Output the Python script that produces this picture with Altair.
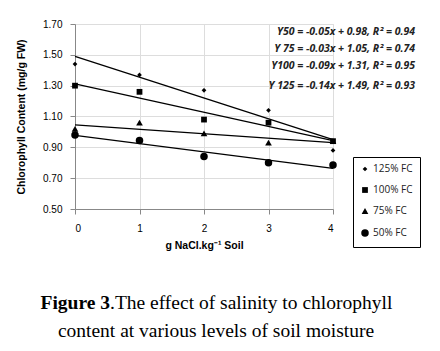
import altair as alt
import pandas as pd

salt = [0, 1, 2, 3, 4]
fc125 = [1.44, 1.37, 1.27, 1.14, 0.88]
fc100 = [1.30, 1.26, 1.08, 1.06, 0.94]
fc75 = [1.02, 1.06, 0.99, 0.93, 0.94]
fc50 = [0.98, 0.945, 0.84, 0.80, 0.785]
series_names = ["125% FC", "100% FC", "75% FC", "50% FC"]
shapes = ["diamond", "square", "triangle-up", "circle"]
sizes = [22, 56, 28, 38]
y_ticks = [0.5, 0.7, 0.9, 1.1, 1.3, 1.5, 1.7]

equations = [
    "Y50 = -0.05x + 0.98, R² = 0.94",
    "Y 75 = -0.03x + 1.05, R² = 0.74",
    "Y100 = -0.09x + 1.31, R² = 0.95",
    "Y 125 = -0.14x + 1.49, R² = 0.93",
]
eq_y = [8, 25, 42, 62]

rows = []
for name, vals in zip(series_names, [fc125, fc100, fc75, fc50]):
    for xv, yv in zip(salt, vals):
        rows.append({"x": xv, "y": yv, "series": name})
df = pd.DataFrame(rows)

eq_df = pd.DataFrame({"t": equations, "py": eq_y})
cap_df = pd.DataFrame({"bold": ["Figure 3"], "rest": [".The effect of salinity to chlorophyll"],
                       "line2": ["content at various levels of soil moisture"]})

font = "Open Sans"
xs = alt.Scale(domain=[0, 4], nice=False)
ys = alt.Scale(domain=[0.5, 1.7], nice=False)

leg = alt.Legend(title=None, orient="none", legendX=278, legendY=133,
                 strokeColor="black", padding=7, rowPadding=9,
                 symbolFillColor="black", symbolStrokeColor="black",
                 labelFontSize=10, labelFont=font, labelOffset=3,
                 labelColor="#222222", fillColor="white")

base = alt.Chart(df)

points = base.mark_point(filled=True, color="black", opacity=1).encode(
    x=alt.X("x:Q", scale=xs,
            axis=alt.Axis(values=salt, tickCount=5, format="d", title="g NaCl.kg⁻¹  Soil",
                          titleFontWeight="bold", titleFontSize=10.5, titlePadding=7,
                          labelPadding=9)),
    y=alt.Y("y:Q", scale=ys,
            axis=alt.Axis(values=y_ticks, tickCount=7, format=".2f", labelOverlap=False,
                          title="Chlorophyll Content  (mg/g FW)", titleFontWeight="bold",
                          titleFontSize=10.5, titlePadding=16, labelPadding=8)),
    shape=alt.Shape("series:N", scale=alt.Scale(domain=series_names, range=shapes), legend=leg),
    size=alt.Size("series:N", scale=alt.Scale(domain=series_names, range=sizes), legend=leg),
)

lines = base.transform_regression("x", "y", groupby=["series"], extent=[0, 4]).mark_line(
    color="black", strokeWidth=1.3
).encode(x=alt.X("x:Q", scale=xs), y=alt.Y("y:Q", scale=ys), detail="series:N")

eqs = alt.Chart(eq_df).mark_text(
    align="right", baseline="middle", font=font, fontSize=10.5, fontWeight="bold",
    fontStyle="italic", color="#222222"
).encode(x=alt.value(340), y=alt.Y("py:Q", scale=None), text="t:N")

cap1a = alt.Chart(cap_df).mark_text(
    align="right", baseline="middle", font="Liberation Serif", fontSize=19.5,
    fontWeight="bold", color="black"
).encode(x=alt.value(35), y=alt.value(279), text="bold:N")
cap1b = alt.Chart(cap_df).mark_text(
    align="left", baseline="middle", font="Liberation Serif", fontSize=19.5, color="black"
).encode(x=alt.value(35), y=alt.value(279), text="rest:N")
cap2 = alt.Chart(cap_df).mark_text(
    align="center", baseline="middle", font="Liberation Serif", fontSize=19.5, color="black"
).encode(x=alt.value(141), y=alt.value(307), text="line2:N")

chart = alt.layer(lines, points, eqs, cap1a, cap1b, cap2).properties(
    width=258, height=185,
    autosize=alt.AutoSizeParams(type="none"),
    padding={"left": 75, "top": 24, "right": 107, "bottom": 142},
).configure_view(stroke=None).configure_axis(
    grid=False, domainColor="#888888", tickColor="#888888", tickSize=4,
    labelFont=font, labelFontSize=11, labelColor="#333333", labelFontWeight="normal",
    titleFont=font, titleColor="#333333"
).configure(background="white")

chart.save("out.html", embed_options={"renderer": "svg", "actions": False})
